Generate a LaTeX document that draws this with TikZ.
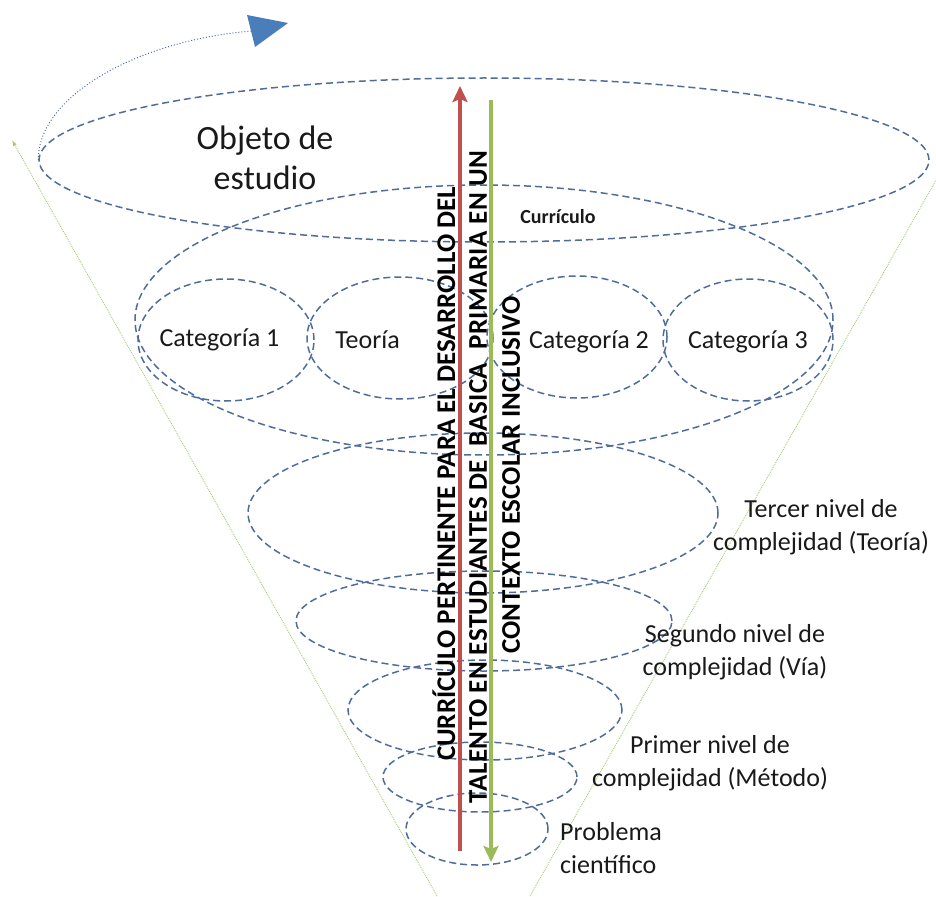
\documentclass[tikz,border=0pt]{standalone}
\usepackage{fontspec}
\setmainfont{Carlito}
\usetikzlibrary{arrows.meta,shapes.geometric}
\definecolor{dashblue}{HTML}{4F6D9B}
\definecolor{arrred}{HTML}{C0504D}
\definecolor{arrgreen}{HTML}{9BBB59}
\definecolor{tri}{HTML}{4A7EBB}
\definecolor{cone}{HTML}{A3CC74}
\begin{document}
\begin{tikzpicture}[x=1pt,y=-1pt,
  ring/.style={ellipse, draw=dashblue, line width=1.5pt, dash pattern=on 7pt off 4pt, inner sep=0pt},
  lbl/.style={font=\fontsize{26}{33}\selectfont, align=center, inner sep=0pt, text=black!90},
  vtxt/.style={font=\bfseries\fontsize{27}{27}\selectfont, rotate=90, inner sep=0pt, text=black},
  conel/.style={draw=cone, line width=0.9pt, densely dotted},
  bigarrow/.style={line width=4pt, -{Stealth[length=16pt,width=15pt,inset=3pt]}},
]
\useasboundingbox (0,0) rectangle (936,896);

% cone lines
\coordinate (clb) at (437,896);
\coordinate (clt) at (12,140);
\coordinate (crb) at (530,896);
\coordinate (crt) at (940,173);
\draw[conel, -{Latex[length=6pt,width=4pt]}] (clb) -- (clt);
\draw[conel] (crb) -- (crt);

% dashed ellipses
\node[ring, minimum width=890, minimum height=164] (obj) at (484,160) {};
\node[ring, minimum width=698, minimum height=270] (curr) at (484,320) {};
\node[ring, minimum width=176, minimum height=122] (cat1) at (226,340) {};
\node[ring, minimum width=186, minimum height=122] (teo) at (400,338) {};
\node[ring, minimum width=180, minimum height=122] (cat2) at (577,337) {};
\node[ring, minimum width=170, minimum height=122] (cat3) at (748,340) {};
\node[ring, minimum width=470, minimum height=160] (e3) at (483,513) {};
\node[ring, minimum width=376, minimum height=100] (e2) at (484,621) {};
\node[ring, minimum width=274, minimum height=100] (e1a) at (485,710) {};
\node[ring, minimum width=194, minimum height=70] (e1) at (480,777) {};
\node[ring, minimum width=142, minimum height=72] (e0) at (477,829) {};

% loop arrow at top
\coordinate (loopend) at (252,31);
\draw[dashblue, line width=1pt, dotted] (obj.west) .. controls (38,95) and (140,40) .. (loopend);
\fill[tri] (247,15) -- (288,23) -- (255,47) -- cycle;

% vertical arrows
\coordinate (rb) at (460,851);
\coordinate (rt) at (460,86);
\coordinate (gt) at (491,100);
\coordinate (gb) at (491,862);
\draw[arrred, bigarrow] (rb) -- (rt);
\draw[arrgreen, bigarrow] (gt) -- (gb);

% vertical texts
\node[vtxt] (v1) at (444,474) {CURRÍCULO PERTINENTE PARA EL DESARROLLO DEL};
\node[vtxt] (v2) at (478,477) {\addfontfeature{LetterSpace=1.6}TALENTO EN ESTUDIANTES DE\ \ BASICA\ \ PRIMARIA EN UN};
\node[vtxt] (v3) at (511,475) {CONTEXTO ESCOLAR INCLUSIVO};

% labels
\node[lbl, font=\fontsize{34}{40}\selectfont] (tobj) at (265,158) {Objeto de\\estudio};
\node[lbl, font=\bfseries\fontsize{20}{24}\selectfont] (tcurr) at (558,217) {Currículo};
\node[lbl] (tc1) at (219.5,340) {Categoría 1};
\node[lbl] (tteo) at (367.5,340) {Teoría};
\node[lbl] (tc2) at (589,342) {Categoría 2};
\node[lbl] (tc3) at (748,342) {Categoría 3};
\node[lbl] (t3) at (821,527) {Tercer nivel de\\complejidad (Teoría)};
\node[lbl] (t2) at (735,652) {Segundo nivel de\\complejidad (Vía)};
\node[lbl] (t1) at (710,763) {Primer nivel de\\complejidad (Método)};
\node[lbl, align=left, anchor=west] (t0) at (560,848) {Problema\\científico};
\end{tikzpicture}
\end{document}
